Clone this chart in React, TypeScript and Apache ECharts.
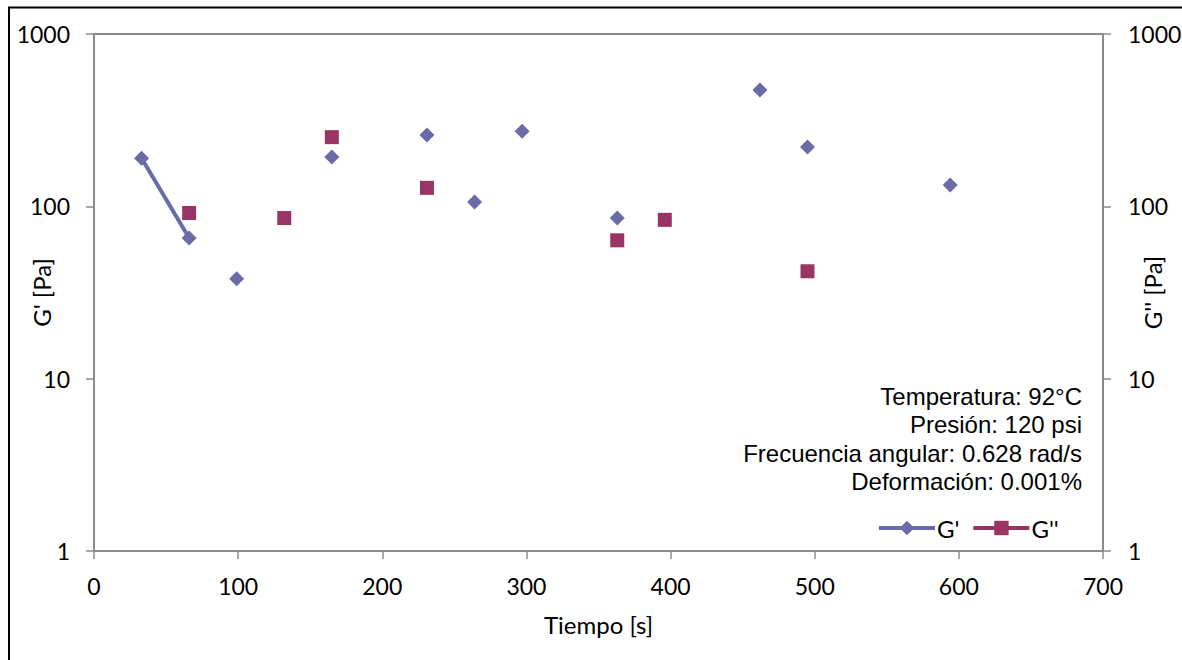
import React, { useEffect, useRef } from "react";
import * as echarts from "echarts";

// G' (storage modulus) data
const gpTimes = [33, 66, 99, 165, 231, 264, 297, 363, 462, 495, 594];
const gpValues = [190, 65.5, 38, 193, 259, 106, 273, 85.5, 473, 221, 133];
const gpLinkedCount = 2; // leading points joined by a smoothed line

// G'' (loss modulus) data
const gppTimes = [66, 132, 165, 231, 363, 396, 495];
const gppValues = [91.5, 85.5, 252, 128, 63.5, 83.5, 42];

const yTicks = [1, 10, 100, 1000];
const notes = [
  "Temperatura: 92°C",
  "Presión: 120 psi",
  "Frecuencia angular: 0.628 rad/s",
  "Deformación: 0.001%",
];

const GP_COLOR = "#6B6BA8";
const GPP_COLOR = "#983565";
const AXIS_COLOR = "#8C8C8C";
const FONT = "Lato, 'Open Sans', sans-serif";
const FS = 24;
const TICK_FS = 23;

function buildData(times: number[], values: number[], linked: number) {
  const out: any[] = [];
  times.forEach((t, i) => {
    out.push([t, values[i]]);
    if (i >= linked - 1 && i < times.length - 1) out.push([t, "-"]);
  });
  return out;
}

export default function App() {
  const ref = useRef<HTMLDivElement>(null);
  useEffect(() => {
    if (!ref.current) return;
    const chart = echarts.init(ref.current, null, { renderer: "svg" });
    const yAxisBase = (pos: "left" | "right", name: string) => ({
      type: "log",
      logBase: 10,
      min: 1,
      max: 1000,
      position: pos,
      name,
      nameLocation: "middle",
      nameRotate: 90,
      nameMoveOverlap: false,
      nameGap: pos === "left" ? 41 : 37,
      nameTextStyle: { fontFamily: FONT, fontSize: FS, color: "#000" },
      axisLine: { show: true, lineStyle: { color: AXIS_COLOR, width: 2 } },
      axisTick: { show: true, inside: false, length: 8, lineStyle: { color: AXIS_COLOR, width: 1.5 } },
      minorTick: { show: false },
      splitLine: { show: false },
      axisLabel: {
        margin: pos === "left" ? 24 : 25,
        fontFamily: FONT,
        fontSize: TICK_FS,
        color: "#000",
        formatter: (v: number) => (yTicks.includes(Math.round(v)) ? String(Math.round(v)) : ""),
      },
    });
    chart.setOption({
      animation: false,
      backgroundColor: "#fff",
      grid: {
        left: 94,
        right: 79,
        top: 34,
        bottom: 109,
        show: true,
        borderColor: AXIS_COLOR,
        borderWidth: 2,
        containLabel: false,
        outerBoundsMode: "none",
      },
      xAxis: {
        type: "value",
        min: 0,
        max: 700,
        interval: 100,
        name: "Tiempo [s]",
        nameLocation: "middle",
        nameMoveOverlap: false,
        nameGap: 61,
        nameTextStyle: { fontFamily: FONT, fontSize: FS, color: "#000" },
        axisLine: { show: true, lineStyle: { color: AXIS_COLOR, width: 2 } },
        axisTick: { show: true, inside: false, length: 8, lineStyle: { color: AXIS_COLOR, width: 1.5 } },
        splitLine: { show: false },
        axisLabel: { margin: 23, fontFamily: FONT, fontSize: TICK_FS, color: "#000" },
      },
      yAxis: [yAxisBase("left", "G' [Pa]"), yAxisBase("right", "G'' [Pa]")],
      legend: {
        left: 872,
        top: 511,
        itemWidth: 56,
        itemHeight: 18,
        itemGap: 12,
        textStyle: { fontFamily: FONT, fontSize: FS, color: "#000", padding: [0, 0, 0, -3] },
        data: [
          { name: "G'", lineStyle: { width: 4, color: GP_COLOR } },
          { name: "G''", lineStyle: { width: 4, color: GPP_COLOR } },
        ],
      },
      graphic: [
        {
          type: "polyline",
          shape: { points: [[9, 700], [9, 7.5], [1200, 7.5]] },
          style: { stroke: "#000", lineWidth: 2, fill: "none" },
          silent: true,
        },
        ...notes.map((t, i) => ({
          type: "text",
          x: 1082,
          y: 384 + i * 28.5,
          silent: true,
          style: {
            text: t,
            fill: "#000",
            font: "24px 'Liberation Sans', Arial, sans-serif",
            textAlign: "right",
            textVerticalAlign: "top",
          },
        })),
      ],
      series: [
        {
          name: "G'",
          type: "line",
          yAxisIndex: 0,
          smooth: true,
          connectNulls: false,
          data: buildData(gpTimes, gpValues, gpLinkedCount),
          symbol: "diamond",
          symbolSize: 15,
          lineStyle: { color: GP_COLOR, width: 4 },
          itemStyle: { color: GP_COLOR },
        },
        {
          name: "G''",
          type: "line",
          yAxisIndex: 0,
          connectNulls: false,
          data: buildData(gppTimes, gppValues, 1),
          symbol: "rect",
          symbolSize: 14,
          lineStyle: { color: GPP_COLOR, width: 4 },
          itemStyle: { color: GPP_COLOR },
        },
      ],
    });
    return () => chart.dispose();
  }, []);
  return (
    <div
      ref={ref}
      style={{ position: "fixed", left: 0, top: 0, width: 1182, height: 660, background: "#fff" }}
    />
  );
}
